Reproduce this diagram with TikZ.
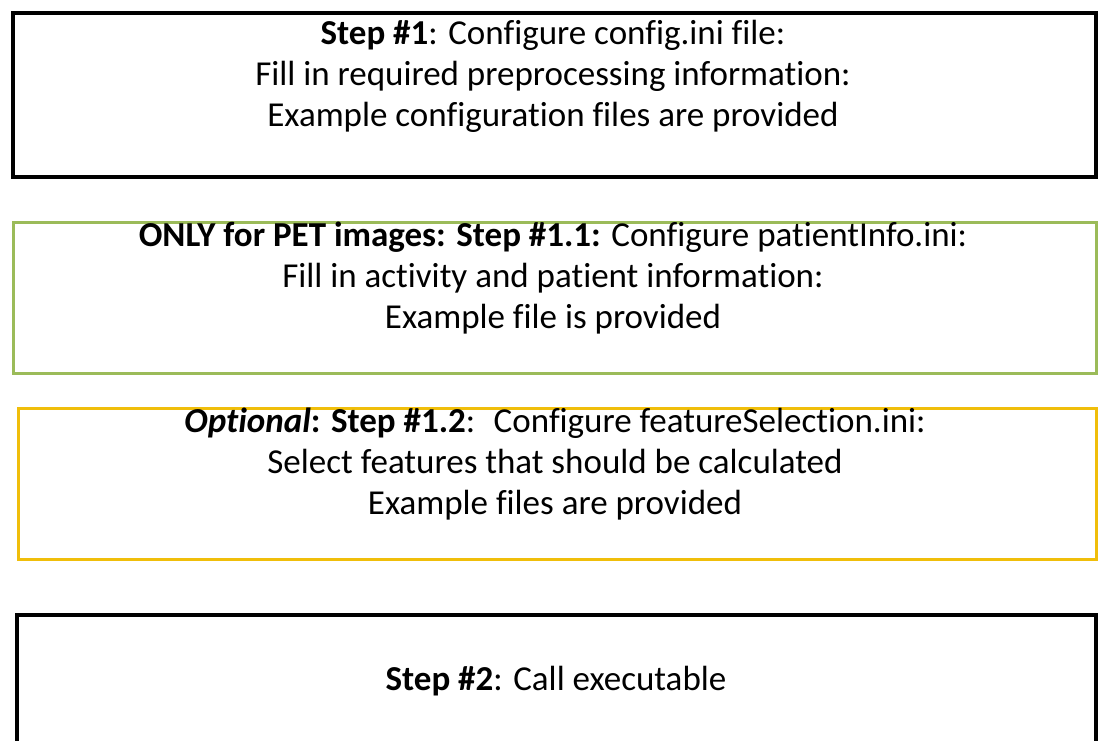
\documentclass[tikz,border=0pt]{standalone}
\usepackage{fontspec}
\setmainfont[Ligatures=NoCommon]{Carlito}
\definecolor{boxgreen}{RGB}{155,187,89}
\definecolor{boxgold}{RGB}{240,190,10}
\tikzset{
  stepbox/.style={line width=3pt},
  steptext/.style={align=center,font=\fontsize{35}{41}\selectfont,inner sep=0pt}
}
\begin{document}
\begin{tikzpicture}[x=1pt,y=-1pt]
\useasboundingbox (0,0) rectangle (1101,740);
\clip (0,0) rectangle (1101,740);
% boxes
\draw[stepbox,black,line width=4pt] (13,13) rectangle (1096,177);
\draw[stepbox,boxgreen] (13,222) rectangle (1096,373);
\draw[stepbox,boxgold] (18,408) rectangle (1096,559);
\draw[stepbox,black,line width=4pt] (17,615) rectangle (1096,800);
% texts
\node[steptext] (s1) at (553,76) {\textbf{Step \#1}: Configure config.ini file:\\
  Fill in required preprocessing information:\\
  Example configuration files are provided};
\node[steptext] (s11) at (553,278) {\textbf{ONLY for PET images: Step \#1.1:} Configure patientInfo.ini:\\
  Fill in activity and patient information:\\
  Example file is provided};
\node[steptext] (s12) at (555,464) {\textbf{\textit{Optional}: Step \#1.2}: \ Configure featureSelection.ini:\\
  Select features that should be calculated\\
  Example files are provided};
\node[steptext] (s2) at (556,681) {\textbf{Step \#2}: Call executable};
\end{tikzpicture}
\end{document}
